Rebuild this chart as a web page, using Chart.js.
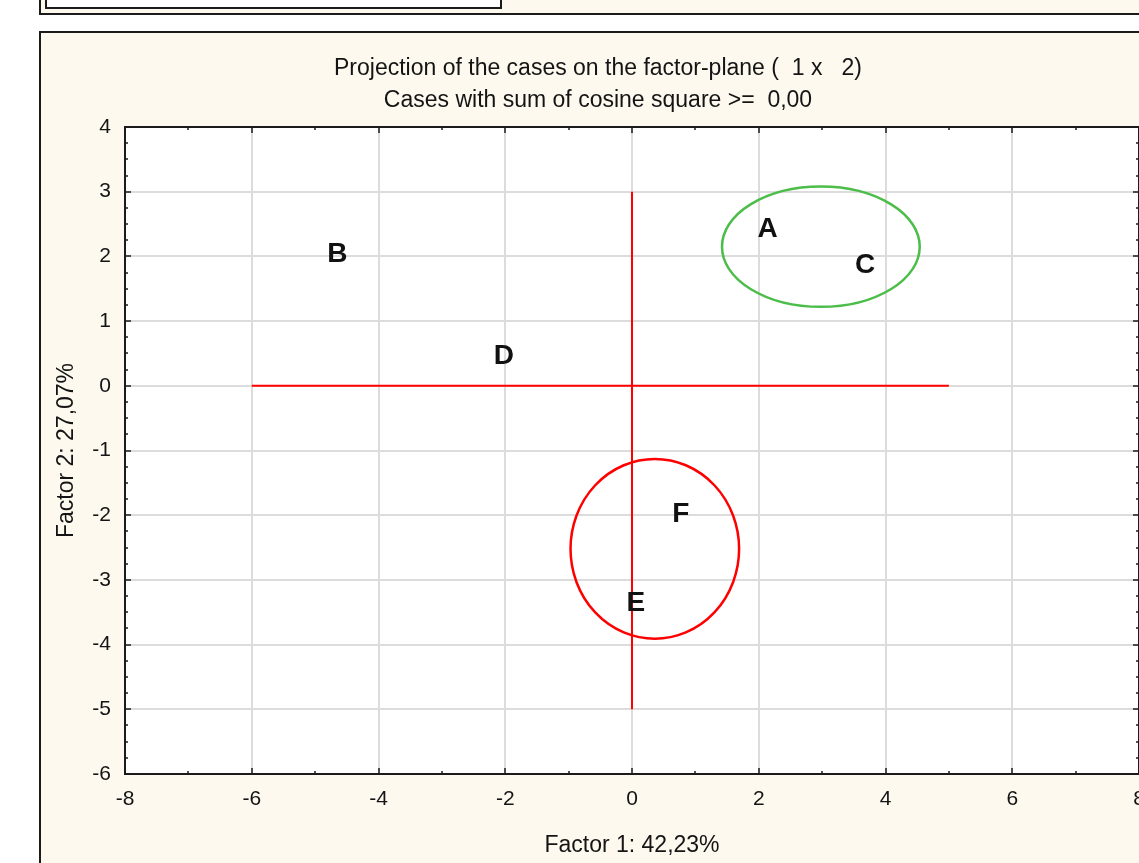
<!DOCTYPE html>
<html>
<head>
<meta charset="utf-8">
<script src="https://cdn.jsdelivr.net/npm/chart.js@4.4.0/dist/chart.umd.min.js"></script>
<style>
  html, body { margin: 0; padding: 0; background: #fff; overflow: hidden; width: 1139px; height: 863px; }
  #topFrame { position: absolute; left: 39px; top: -4px; right: -10px; height: 17px; background: #fef9ef;
              border-left: 2px solid #1b1b1b; border-bottom: 2px solid #1b1b1b; }
  #topBox { position: absolute; left: 45px; top: -4px; width: 453px; height: 9px; background: #fff;
            border: 2px solid #1b1b1b; }
  #chartFrame { position: absolute; left: 39px; top: 31px; right: -10px; bottom: -10px; background: #fef9ef;
                border-left: 2px solid #1b1b1b; border-top: 2px solid #1b1b1b; }
  canvas { position: absolute; left: 0; top: 0; }
</style>
</head>
<body>
<div id="topFrame"></div>
<div id="topBox"></div>
<div id="chartFrame"></div>
<canvas id="factor-plane" width="1200" height="863"></canvas>
<script>
// case coordinates on the factor plane
const caseLabels = ['A', 'B', 'C', 'D', 'E', 'F'];
const factor1 = [2.14, -4.65, 3.68, -2.02, 0.06, 0.77];
const factor2 = [2.46, 2.07, 1.90, 0.49, -3.32, -1.95];

// red reference cross
const crossHX = [-6, 5];
const crossHY = [0, 0];
const crossVX = [0, 0];
const crossVY = [3, -5];

// group ellipses (centre and radii in factor units)
const groupCx = [2.98, 0.36];
const groupCy = [2.15, -2.52];
const groupRx = [1.56, 1.33];
const groupRy = [0.93, 1.39];
const groupColors = ['#4dbd4a', '#ff0000'];

const titleLines = ['Projection of the cases on the factor-plane (  1 x   2)', 'Cases with sum of cosine square >=  0,00'];
const xTitle = 'Factor 1: 42,23%';
const yTitle = 'Factor 2: 27,07%';

const FONT = '"Liberation Sans", Arial, sans-serif';
const INK = '#141414';
Chart.defaults.font.family = FONT;

const plotBg = {
    id: 'plotBg',
    beforeDraw(chart) {
        const { ctx, chartArea: a } = chart;
        ctx.save();
        ctx.fillStyle = '#ffffff';
        ctx.fillRect(a.left, a.top, a.right - a.left, a.bottom - a.top);
        ctx.restore();
    }
};

const groupsAndLabels = {
    id: 'groupsAndLabels',
    afterDatasetsDraw(chart) {
        const { ctx } = chart;
        const x = chart.scales.x, y = chart.scales.y;
        ctx.save();
        ctx.lineWidth = 2.5;
        groupCx.forEach((cx, i) => {
            const px = x.getPixelForValue(cx);
            const py = y.getPixelForValue(groupCy[i]);
            const rx = Math.abs(x.getPixelForValue(cx + groupRx[i]) - px);
            const ry = Math.abs(y.getPixelForValue(groupCy[i] + groupRy[i]) - py);
            ctx.strokeStyle = groupColors[i];
            ctx.beginPath();
            ctx.ellipse(px, py, rx, ry, 0, 0, Math.PI * 2);
            ctx.stroke();
        });
        const size = 28;
        ctx.font = 'bold ' + size + 'px ' + FONT;
        ctx.fillStyle = '#111';
        ctx.textAlign = 'center';
        ctx.textBaseline = 'alphabetic';
        chart.getDatasetMeta(0).data.forEach((pt, i) => {
            ctx.fillText(caseLabels[i], pt.x, pt.y + size * 0.358);
        });
        ctx.restore();
    }
};

// box round the plot with inward ticks on all four sides
const frame = {
    id: 'frame',
    afterDraw(chart) {
        const { ctx, chartArea: a } = chart;
        const x = chart.scales.x, y = chart.scales.y;
        ctx.save();
        ctx.strokeStyle = '#1b1b1b';
        ctx.lineWidth = 1.5;
        ctx.beginPath();
        const xt = x.ticks.map(t => t.value);
        xt.forEach((v, i) => {
            const p = Math.round(x.getPixelForValue(v));
            ctx.moveTo(p, a.bottom); ctx.lineTo(p, a.bottom - 6);
            ctx.moveTo(p, a.top); ctx.lineTo(p, a.top + 6);
            if (i < xt.length - 1) {
                const m = Math.round(x.getPixelForValue((v + xt[i + 1]) / 2));
                ctx.moveTo(m, a.bottom); ctx.lineTo(m, a.bottom - 3);
                ctx.moveTo(m, a.top); ctx.lineTo(m, a.top + 3);
            }
        });
        const yt = y.ticks.map(t => t.value);
        yt.forEach((v, i) => {
            const p = Math.round(y.getPixelForValue(v));
            ctx.moveTo(a.left, p); ctx.lineTo(a.left + 6, p);
            ctx.moveTo(a.right, p); ctx.lineTo(a.right - 6, p);
            if (i < yt.length - 1) {
                for (let k = 1; k < 4; k++) {
                    const m = Math.round(y.getPixelForValue(v + (yt[i + 1] - v) * k / 4));
                    ctx.moveTo(a.left, m); ctx.lineTo(a.left + 3, m);
                    ctx.moveTo(a.right, m); ctx.lineTo(a.right - 3, m);
                }
            }
        });
        ctx.stroke();
        ctx.lineWidth = 2;
        ctx.strokeRect(a.left, a.top, a.right - a.left, a.bottom - a.top);
        ctx.restore();
    }
};

const caseData = factor1.map((v, i) => ({ x: v, y: factor2[i] }));
const crossH = crossHX.map((v, i) => ({ x: v, y: crossHY[i] }));
const crossV = crossVX.map((v, i) => ({ x: v, y: crossVY[i] }));

new Chart(document.getElementById('factor-plane').getContext('2d'), {
    type: 'scatter',
    data: {
        datasets: [
            { label: 'Cases', data: caseData, pointRadius: 0 },
            { label: 'cross-h', data: crossH, showLine: true, borderColor: '#ff0000', borderWidth: 2, pointRadius: 0 },
            { label: 'cross-v', data: crossV, showLine: true, borderColor: '#ff0000', borderWidth: 2, pointRadius: 0 }
        ]
    },
    options: {
        responsive: false,
        animation: false,
        layout: { padding: { left: 42, top: 40, right: 46, bottom: 0 } },
        plugins: {
            legend: { display: false },
            tooltip: { enabled: false },
            title: {
                display: true,
                text: titleLines,
                color: INK,
                font: { size: 23, weight: 'normal', lineHeight: 32 / 23 },
                padding: { top: 13, bottom: 10 }
            }
        },
        scales: {
            x: {
                type: 'linear', position: 'bottom', min: -8, max: 8,
                ticks: { stepSize: 2, color: INK, font: { size: 21 }, padding: 13, maxRotation: 0 },
                grid: { color: '#dcdcdc', lineWidth: 2, drawTicks: false },
                border: { display: false },
                title: { display: true, text: xTitle, color: INK, font: { size: 23 }, padding: { top: 0, bottom: 4 } },
                afterFit(s) { s.height = 89; }
            },
            y: {
                type: 'linear', position: 'left', min: -6, max: 4,
                ticks: { stepSize: 1, color: INK, font: { size: 21 }, padding: 14 },
                grid: { color: '#dcdcdc', lineWidth: 2, drawTicks: false },
                border: { display: false },
                title: { display: true, text: yTitle, color: INK, font: { size: 23 }, padding: { top: 11, bottom: 0 } },
                afterFit(s) { s.width = 83; }
            },
            y2: {
                type: 'linear', position: 'right', min: -6, max: 4,
                ticks: { display: false },
                grid: { display: false },
                border: { display: false },
                afterFit(s) { s.width = 15; }
            }
        }
    },
    plugins: [plotBg, groupsAndLabels, frame]
});
</script>
</body>
</html>
